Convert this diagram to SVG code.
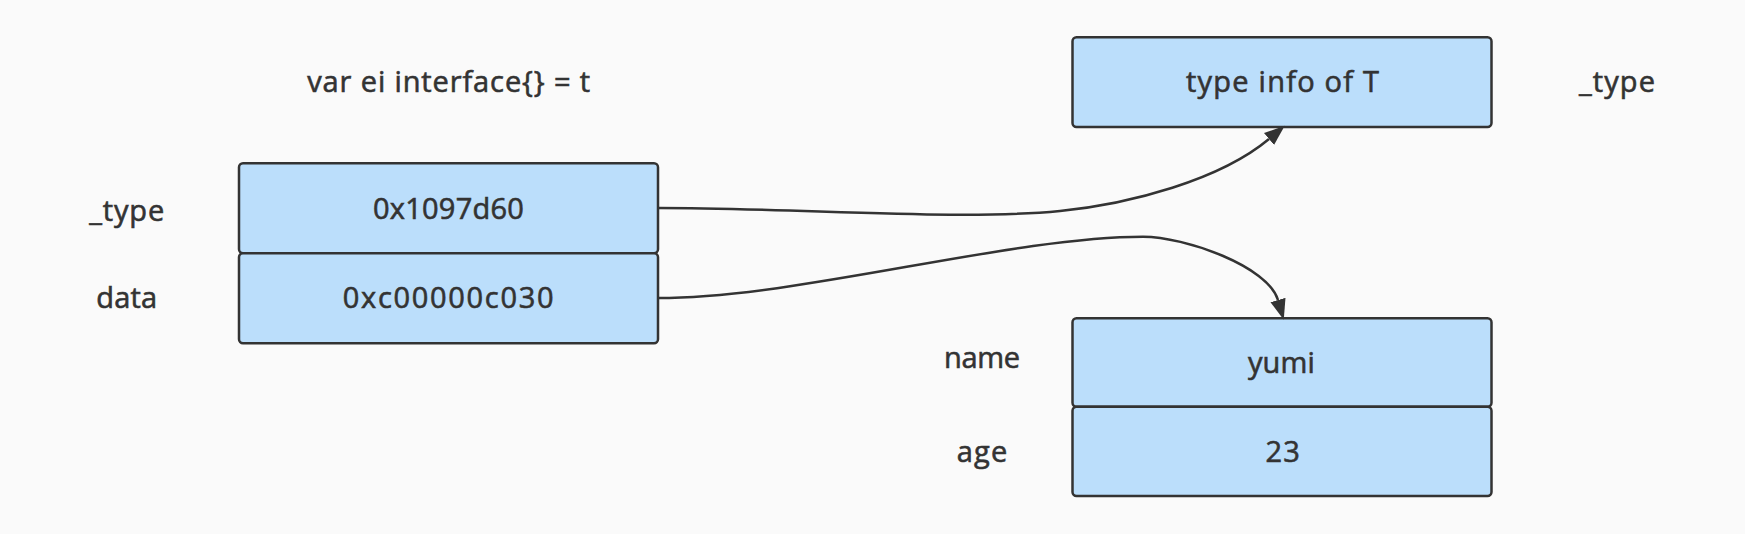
<svg xmlns="http://www.w3.org/2000/svg" width="1745" height="534" viewBox="0 0 1745 534">
<defs>
<style>
.box{fill:#bbdefb;stroke:#333333;stroke-width:2.5}
.t{font-family:"Open Sans","Liberation Sans",Arial,sans-serif;font-size:29px;fill:#333333;stroke:#333333;stroke-width:0.6;text-anchor:middle}
.edge{fill:none;stroke:#333333;stroke-width:2.5}
</style>
<marker id="arr" markerUnits="userSpaceOnUse" markerWidth="21" markerHeight="16" viewBox="0 0 21 16" refX="0" refY="8" orient="auto">
<path d="M0,0.2 L20.5,8 L0,15.8 z" fill="#333333"/>
</marker>
</defs>
<rect width="1745" height="534" fill="#fafafa"/>
<g id="title">
<text class="t" x="448.7" y="92.3" textLength="283">var ei interface{} = t</text>
</g>
<g id="label-type-left">
<text class="t" x="126.7" y="221" textLength="75">_type</text>
</g>
<g id="label-data">
<text class="t" x="126.7" y="308.3" textLength="61">data</text>
</g>
<g id="node-type-ptr">
<rect class="box" x="239" y="163.3" width="419" height="90" rx="4"/>
<text class="t" x="448.4" y="219.3" textLength="151">0x1097d60</text>
</g>
<g id="node-data-ptr">
<rect class="box" x="239" y="253.3" width="419" height="90" rx="4"/>
<text class="t" x="448.2" y="308.3" textLength="210.7">0xc00000c030</text>
</g>
<g id="node-typeinfo">
<rect class="box" x="1072.5" y="37.2" width="419" height="89.8" rx="4"/>
<text class="t" x="1282.5" y="92.3" textLength="193">type info of T</text>
</g>
<g id="label-type-right">
<text class="t" x="1617" y="92.3" textLength="76">_type</text>
</g>
<g id="label-name">
<text class="t" x="982" y="368.3" textLength="76">name</text>
</g>
<g id="label-age">
<text class="t" x="982" y="461.7" textLength="50.6">age</text>
</g>
<g id="node-name">
<rect class="box" x="1072.5" y="318.3" width="419" height="88.4" rx="4"/>
<text class="t" x="1281.4" y="372.5" textLength="67">yumi</text>
</g>
<g id="node-age">
<rect class="box" x="1072.5" y="406.7" width="419" height="89.3" rx="4"/>
<text class="t" x="1282.7" y="461.5" textLength="34.5">23</text>
</g>
<g id="connectors">
<path class="edge" marker-end="url(#arr)" d="M658,208 C800,208 960,221 1060,211 C1130,204 1220,180 1269,139"/>
<path class="edge" marker-end="url(#arr)" d="M658,298 C800,298 1010,236.7 1143,236.7 C1185,236.7 1268.2,266.4 1278,300"/>
</g>
</svg>
